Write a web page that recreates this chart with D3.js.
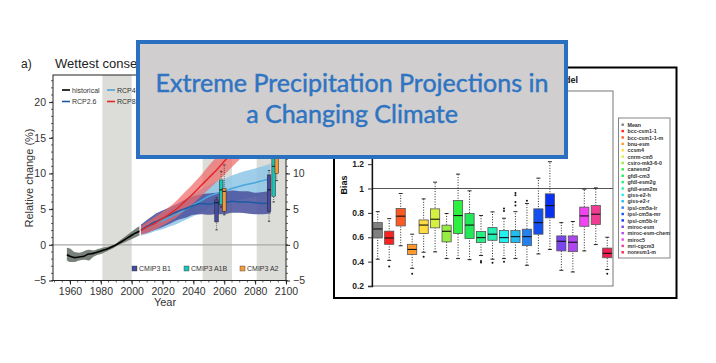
<!DOCTYPE html>
<html><head><meta charset="utf-8">
<script src="https://cdn.jsdelivr.net/npm/d3@7"></script>
<style>body{margin:0;background:#fff}svg{display:block}</style>
</head><body>
<svg id="c" width="716" height="363"></svg>
<script>
// ---------- Panel a data ----------
const histYears = [1958,1960,1963,1966,1969,1972,1975,1978,1981,1984,1987,1990,1993,1996,1999,2002,2005];
const histMean  = [-1.4,-1.6,-1.8,-1.7,-1.6,-1.3,-1.2,-1.0,-0.8,-0.6,-0.3,0.0,0.4,0.8,1.2,1.6,1.9];
const histLo    = [-2.2,-2.4,-2.4,-2.2,-2.1,-2.2,-1.7,-1.4,-1.2,-0.9,-0.6,-0.2,0.1,0.4,0.7,1.0,1.3];
const histHi    = [-0.4,-0.5,-1.0,-1.1,-0.9,-0.7,-0.8,-0.6,-0.4,-0.3,-0.1,0.2,0.7,1.2,1.7,2.2,2.6];

const rcpYears  = [2006,2010,2015,2020,2025,2030,2035,2040,2045,2050,2055,2060,2065,2070,2075,2080,2085,2090];
const rcp26Mean = [2.1,2.6,3.2,3.7,4.2,4.7,5.1,5.5,5.8,5.7,5.9,5.9,6.1,6.0,6.0,5.9,5.8,5.9];
const rcp26Lo   = [1.5,1.7,2.1,2.5,3.0,3.5,3.8,4.2,4.3,4.2,4.3,4.3,4.5,4.5,4.4,4.3,4.3,4.4];
const rcp26Hi   = [2.8,3.5,4.3,4.8,5.3,5.8,6.4,6.8,7.1,7.2,7.3,7.4,7.6,7.5,7.5,7.3,7.4,7.5];
const rcp45Mean = [2.0,2.4,3.0,3.4,3.9,4.4,5.0,5.6,6.2,6.8,7.2,7.5,7.9,8.2,8.5,8.7,9.0,9.3];
const rcp45Lo   = [1.3,1.5,1.9,2.2,2.6,3.0,3.5,4.0,4.6,5.1,5.5,5.7,6.0,6.3,6.5,6.7,6.9,7.1];
const rcp45Hi   = [2.8,3.3,4.0,4.5,5.1,5.8,6.4,7.1,7.8,8.4,8.9,9.2,9.7,10.1,10.4,10.7,11.0,11.4];
const rcp85Mean = [2.0,2.5,3.0,3.7,4.4,5.2,6.2,7.2,8.3,9.4,10.5,11.7,12.9,14.1,15.4,16.7,18.0,19.4];
const rcp85Lo   = [1.4,1.7,2.1,2.7,3.3,4.0,4.9,5.8,6.8,7.8,8.8,9.8,10.9,12.0,13.1,14.3,15.5,16.8];
const rcp85Hi   = [2.6,3.2,3.9,4.6,5.4,6.4,7.5,8.6,9.8,11.1,12.3,13.6,14.9,16.2,17.6,19.0,20.5,22.0];

const periods = [[1981,2000],[2046,2065],[2081,2100]];
const xTicksA = [1960,1980,2000,2020,2040,2060,2080,2100];
const yTicksA = [-5,0,5,10,15,20];

const cmip3Names = ["CMIP3 B1","CMIP3 A1B","CMIP3 A2"];
const cmip3Years = [[2055,2089],[2058,2092],[2060,2094]];
// [min, q1, median, q3, max] per period
const cmip3B1  = [[2.1,3.2,5.9,6.3,6.6],[3.3,4.7,7.7,9.8,10.4]];
const cmip3A1B = [[5.3,5.6,7.7,9.1,10.3],[6.0,6.8,11.0,14.0,17.0]];
const cmip3A2  = [[4.2,4.7,7.5,7.9,11.2],[9.0,10.0,13.0,16.0,19.0]];

// ---------- Panel b data ----------
const models = ["Mean","bcc-csm1-1","bcc-csm1-1-m","bnu-esm","ccsm4","cnrm-cm5","csiro-mk3-6-0","canesm2","gfdl-cm3","gfdl-esm2g","gfdl-esm2m","giss-e2-h","giss-e2-r","ipsl-cm5a-lr","ipsl-cm5a-mr","ipsl-cm5b-lr","miroc-esm","miroc-esm-chem","miroc5","mri-cgcm3","noresm1-m"];
const modelColors = ["#808080","#ff2020","#ff5a22","#ff9a30","#ffdc40","#d6f040","#96ee44","#2ef040","#22e85a","#22f080","#22f0b0","#22f0f0","#22bdf0","#2280f0","#1450f0","#0a30f0","#7a44f0","#b044f0","#f244f0","#f03c92","#f02050"];
const biasWhiskLo = [0.42,0.41,0.53,0.345,0.477,0.48,0.425,0.425,0.416,0.45,0.42,0.425,0.425,0.37,0.463,0.50,0.329,0.315,0.488,0.54,0.335];
const biasQ1      = [0.594,0.542,0.693,0.458,0.63,0.677,0.562,0.63,0.589,0.556,0.575,0.556,0.556,0.531,0.625,0.759,0.488,0.482,0.69,0.704,0.432];
const biasMedian  = [0.668,0.594,0.773,0.50,0.70,0.748,0.649,0.778,0.70,0.597,0.625,0.597,0.605,0.605,0.72,0.86,0.567,0.559,0.775,0.789,0.468];
const biasQ3      = [0.72,0.65,0.836,0.542,0.742,0.833,0.699,0.901,0.795,0.647,0.679,0.655,0.655,0.666,0.833,0.956,0.611,0.611,0.847,0.86,0.511];
const biasWhiskHi = [0.81,0.753,0.959,0.625,0.915,1.052,0.795,1.118,0.981,0.778,0.808,0.756,0.81,0.877,1.085,1.22,0.72,0.729,0.995,1.005,0.60];
const biasOutliers = [[],[0.36],[],[0.30],[0.44],[],[],[],[],[0.405,0.392],[0.39],[0.836,0.816,0.40],[0.964,0.945,0.89,0.86],[0.90],[],[],[],[],[],[],[0.30]];
const yTicksB = [0.2,0.4,0.6,0.8,1.0,1.2];

// ---------- Drawing ----------
const svg = d3.select("#c");
svg.append("rect").attr("width",716).attr("height",363).attr("fill","#fff");
const F = "Liberation Sans, Arial, sans-serif";

// ===== Panel a =====
const xA = d3.scaleLinear([1949,2100],[53,286]);
const yA = d3.scaleLinear([-5,23.8],[280.5,75]);
const gA = svg.append("g");

gA.selectAll("rect.per").data(periods).join("rect")
  .attr("x",d=>xA(d[0])).attr("width",d=>xA(d[1])-xA(d[0]))
  .attr("y",yA(23.8)).attr("height",yA(-5)-yA(23.8)).attr("fill","#dcdcd8");
gA.append("line").attr("x1",xA(1949)).attr("x2",xA(2100)).attr("y1",yA(0)).attr("y2",yA(0))
  .attr("stroke","#a8a8a8").attr("stroke-width",1.2);

function band(years, lo, hi, color, op){
  const ar = d3.area().x((d,i)=>xA(years[i])).y0((d,i)=>yA(lo[i])).y1((d,i)=>yA(hi[i])).curve(d3.curveMonotoneX);
  gA.append("path").datum(years).attr("d",ar).attr("fill",color).attr("fill-opacity",op);
}
function line(years, vals, color, w){
  const ln = d3.line().x((d,i)=>xA(years[i])).y((d,i)=>yA(vals[i])).curve(d3.curveMonotoneX);
  gA.append("path").datum(years).attr("d",ln).attr("fill","none").attr("stroke",color).attr("stroke-width",w);
}
band(histYears,histLo,histHi,"#606b63",0.85);
band(rcpYears,rcp45Lo,rcp45Hi,"#8ec6e6",0.85);
band(rcpYears,rcp26Lo,rcp26Hi,"#4c549e",0.88);
band(rcpYears,rcp85Lo,rcp85Hi,"#ee6a6a",0.72);
line(rcpYears,rcp45Mean,"#4aa6dc",1.5);
line(rcpYears,rcp26Mean,"#1d5aa4",1.5);
line(rcpYears,rcp85Mean,"#e32a2a",1.5);
line(histYears,histMean,"#000",1.6);

// CMIP3 boxes
const cmColors = ["#464c9c","#1ec2b4","#f39a3c"];
const cmStats = [cmip3B1,cmip3A1B,cmip3A2];
cmStats.forEach((st,s)=>{
  st.forEach((v,p)=>{
    const cx = xA(cmip3Years[s][p]);
    const g = gA.append("g");
    g.append("line").attr("x1",cx).attr("x2",cx).attr("y1",yA(v[0])).attr("y2",yA(v[4])).attr("stroke","#222").attr("stroke-width",0.6).attr("stroke-dasharray","1,1");
    g.append("rect").attr("x",cx-1.8).attr("width",3.6).attr("y",yA(v[3])).attr("height",yA(v[1])-yA(v[3]))
      .attr("fill",cmColors[s]).attr("stroke","#222").attr("stroke-width",0.5);
    g.append("line").attr("x1",cx-1.8).attr("x2",cx+1.8).attr("y1",yA(v[2])).attr("y2",yA(v[2])).attr("stroke","#111").attr("stroke-width",1);
    [v[0],v[4]].forEach(t=>g.append("line").attr("x1",cx-1.2).attr("x2",cx+1.2).attr("y1",yA(t)).attr("y2",yA(t)).attr("stroke","#222").attr("stroke-width",0.8));
  });
});

// frame
gA.append("rect").attr("x",xA(1949)).attr("y",yA(23.8)).attr("width",xA(2100)-xA(1949)).attr("height",yA(-5)-yA(23.8))
  .attr("fill","none").attr("stroke","#222").attr("stroke-width",1);

// axes
const axL = d3.axisLeft(yA).tickValues(yTicksA).tickSize(4).tickSizeOuter(0).tickFormat(d=>d<0?"\u2212"+Math.abs(d):String(d));
const gL = gA.append("g").attr("transform",`translate(${xA(1949)},0)`).call(axL);
const axR = d3.axisRight(yA).tickValues(yTicksA).tickSize(4).tickSizeOuter(0).tickFormat(d=>d<0?"\u2212"+Math.abs(d):String(d));
const gR = gA.append("g").attr("transform",`translate(${xA(2100)},0)`).call(axR);
const axB = d3.axisBottom(xA).tickValues(xTicksA).tickSize(4).tickSizeOuter(0).tickFormat(d3.format("d"));
const gB = gA.append("g").attr("transform",`translate(0,${yA(-5)})`).call(axB);
[gL,gR,gB].forEach(g=>{
  g.select(".domain").remove();
  g.selectAll("text").attr("font-family",F).attr("font-size",10.5).attr("fill","#333");
  g.selectAll("line").attr("stroke","#222");
});
// minor ticks
gA.append("g").selectAll("line").data(d3.range(-5,24,1)).join("line")
  .attr("x1",xA(1949)-2).attr("x2",xA(1949)).attr("y1",d=>yA(d)).attr("y2",d=>yA(d)).attr("stroke","#222").attr("stroke-width",0.7);
gA.append("g").selectAll("line").data(d3.range(-5,24,1)).join("line")
  .attr("x1",xA(2100)).attr("x2",xA(2100)+2).attr("y1",d=>yA(d)).attr("y2",d=>yA(d)).attr("stroke","#222").attr("stroke-width",0.7);
gA.append("g").selectAll("line").data(d3.range(1950,2101,5)).join("line")
  .attr("x1",d=>xA(d)).attr("x2",d=>xA(d)).attr("y1",yA(-5)).attr("y2",yA(-5)+2).attr("stroke","#222").attr("stroke-width",0.7);

gA.append("text").attr("x",165).attr("y",306).attr("text-anchor","middle").attr("font-family",F).attr("font-size",11).attr("fill","#333").text("Year");
gA.append("text").attr("transform","translate(33,178) rotate(-90)").attr("text-anchor","middle").attr("font-family",F).attr("font-size",11).attr("fill","#333").text("Relative change (%)");
gA.append("text").attr("x",21).attr("y",68).attr("font-family",F).attr("font-size",12).attr("fill","#222").text("a)");
gA.append("text").attr("x",55).attr("y",68).attr("font-family",F).attr("font-size",13).attr("fill","#222").text("Wettest consecutive 5-day");

// legend top
const legA = [["historical","#000",62,90],["RCP2.6","#1d5aa4",62,101.5],["RCP4.5","#4aa6dc",107,90],["RCP8.5","#e32a2a",107,101.5]];
legA.forEach(d=>{
  gA.append("line").attr("x1",d[2]).attr("x2",d[2]+8).attr("y1",d[3]).attr("y2",d[3]).attr("stroke",d[1]).attr("stroke-width",1.6);
  gA.append("text").attr("x",d[2]+10).attr("y",d[3]+2.5).attr("font-family",F).attr("font-size",7).attr("fill","#333").text(d[0]);
});
// legend bottom
const legBx = [132,184,240];
cmip3Names.forEach((n,i)=>{
  gA.append("rect").attr("x",legBx[i]).attr("y",266).attr("width",5).attr("height",5).attr("fill",cmColors[i]).attr("stroke","#333").attr("stroke-width",0.4);
  gA.append("text").attr("x",legBx[i]+7).attr("y",271).attr("font-family",F).attr("font-size",7).attr("fill","#333").text(n);
});

// ===== Panel b =====
const gBp = svg.append("g");
gBp.append("rect").attr("x",334).attr("y",67.5).attr("width",342.5).attr("height",230.5).attr("fill","#fff").attr("stroke","#000").attr("stroke-width",2);
gBp.append("text").attr("x",578).attr("y",83).attr("text-anchor","end").attr("font-family",F).attr("font-weight","bold").attr("font-size",9).attr("fill","#111").text("Bias by model");

const xB = d3.scaleBand(models,[372,613]).paddingInner(0.2).paddingOuter(0.1);
const yB = d3.scaleLinear([0.2,1.8],[286,91]);
gBp.append("rect").attr("x",372).attr("y",yB(1.8)).attr("width",613-372).attr("height",yB(0.2)-yB(1.8)).attr("fill","none").attr("stroke","#777").attr("stroke-width",1);
gBp.append("line").attr("x1",372).attr("x2",613).attr("y1",yB(1)).attr("y2",yB(1)).attr("stroke","#555").attr("stroke-width",1);

const axBL = d3.axisLeft(yB).tickValues(yTicksB).tickSize(4).tickFormat(d=>d===1?"1":d3.format(".1f")(d));
const gBL = gBp.append("g").attr("transform","translate(372,0)").call(axBL);
gBL.select(".domain").attr("stroke","#111").attr("stroke-width",1.3);
gBL.selectAll("line").attr("stroke","#333");
gBL.selectAll("text").attr("font-family",F).attr("font-size",8.5).attr("font-weight","bold").attr("fill","#222").attr("dx",-1);
gBp.append("text").attr("transform","translate(347,185) rotate(-90)").attr("text-anchor","middle").attr("font-family",F).attr("font-size",9).attr("font-weight","bold").attr("fill","#111").text("Bias");

const bw = xB.bandwidth();
models.forEach((m,i)=>{
  const cx = xB(m)+bw/2;
  const g = gBp.append("g");
  g.append("line").attr("x1",cx).attr("x2",cx).attr("y1",yB(biasWhiskLo[i])).attr("y2",yB(biasWhiskHi[i]))
    .attr("stroke","#111").attr("stroke-width",0.9).attr("stroke-dasharray","1,1.6");
  [biasWhiskLo[i],biasWhiskHi[i]].forEach(t=>g.append("line").attr("x1",cx-2).attr("x2",cx+2).attr("y1",yB(t)).attr("y2",yB(t)).attr("stroke","#111").attr("stroke-width",0.9));
  g.append("rect").attr("x",xB(m)).attr("width",bw).attr("y",yB(biasQ3[i])).attr("height",yB(biasQ1[i])-yB(biasQ3[i]))
    .attr("fill",modelColors[i]).attr("stroke","#555").attr("stroke-width",0.8);
  g.append("line").attr("x1",xB(m)).attr("x2",xB(m)+bw).attr("y1",yB(biasMedian[i])).attr("y2",yB(biasMedian[i])).attr("stroke","#111").attr("stroke-width",1.1);
  biasOutliers[i].forEach(o=>g.append("circle").attr("cx",cx).attr("cy",yB(o)).attr("r",1).attr("fill","#111"));
});

// legend b
const lg = gBp.append("g");
lg.append("rect").attr("x",618.5).attr("y",118).attr("width",51.5).attr("height",140).attr("fill","#fff").attr("stroke","#666").attr("stroke-width",0.8);
models.forEach((m,i)=>{
  const yy = 125+i*6.38;
  lg.append("rect").attr("x",621.5).attr("y",yy-1.5).attr("width",2.4).attr("height",2.4).attr("fill",modelColors[i]);
  lg.append("text").attr("x",627.5).attr("y",yy+1.8).attr("font-family",F).attr("font-size",5.3).attr("font-weight","bold").attr("fill","#333").text(m);
});

// ===== Overlay title box =====
const ov = svg.append("g");
ov.append("rect").attr("x",138).attr("y",42).attr("width",428).attr("height",115).attr("fill","#d0cece").attr("stroke","#2a70c0").attr("stroke-width",4);
const titleLines = ["Extreme Precipitation Projections in","a Changing Climate"];
const OF = "Lato, 'Open Sans', sans-serif";
const t1 = ov.append("text").attr("x",352).attr("y",91.5).attr("text-anchor","middle").attr("font-family",OF).attr("font-size",26)
  .attr("fill","#2e74c2").attr("stroke","#2e74c2").attr("stroke-width",0.45).text(titleLines[0]);
const w = t1.node().getComputedTextLength();
const fs = 26*393/w;
t1.attr("font-size",fs);
ov.append("text").attr("x",352).attr("y",122.7).attr("text-anchor","middle").attr("font-family",OF).attr("font-size",fs)
  .attr("fill","#2e74c2").attr("stroke","#2e74c2").attr("stroke-width",0.45).text(titleLines[1]);
</script>
</body></html>
